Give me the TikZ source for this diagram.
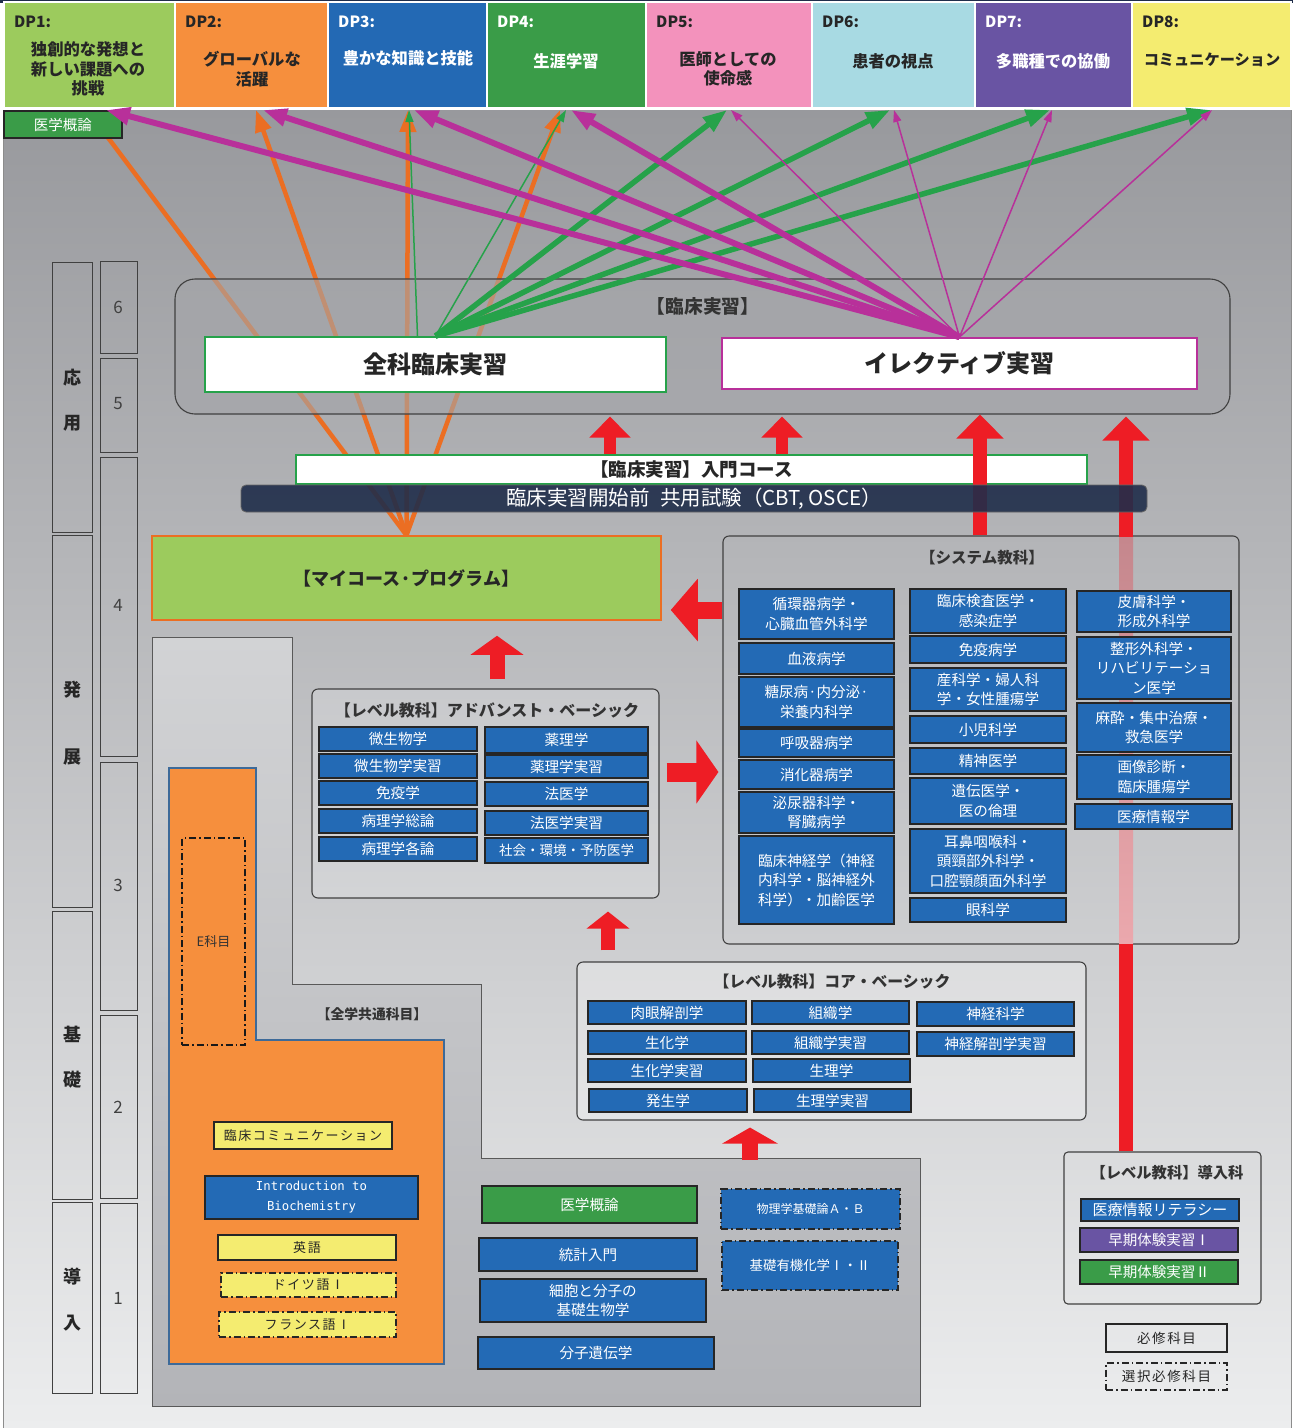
\documentclass[tikz,border=0pt]{standalone}
\usepackage{fontspec}
\setmainfont{Noto Sans CJK JP}
\newfontfamily\monof{DejaVu Sans Mono}
\newfontfamily\spacedf{Noto Sans CJK JP}[LetterSpace=12]
\usetikzlibrary{arrows.meta,calc}
\pgfdeclarelayer{back}
\pgfdeclarelayer{olines}
\pgfdeclarelayer{glines}
\pgfdeclarelayer{sboxl}
\pgfdeclarelayer{topl}
\pgfsetlayers{back,olines,main,glines,sboxl,topl}
\definecolor{dpa}{HTML}{9CCB5D}
\definecolor{dpb}{HTML}{F68F3D}
\definecolor{dpc}{HTML}{2369B4}
\definecolor{dpd}{HTML}{3A9C48}
\definecolor{dpe}{HTML}{F392BC}
\definecolor{dpf}{HTML}{A8DAE3}
\definecolor{dpg}{HTML}{6954A3}
\definecolor{dph}{HTML}{F4EC70}
\definecolor{sblue}{HTML}{236AB5}
\definecolor{mred}{HTML}{EE1D25}
\definecolor{lor}{HTML}{EB6E23}
\definecolor{lgr}{HTML}{26A24A}
\definecolor{lmag}{HTML}{B8309A}
\definecolor{navy}{HTML}{1F2D4A}
\definecolor{bgtop}{HTML}{98999D}
\definecolor{bgbot}{HTML}{ECEDEE}
\definecolor{clinf}{HTML}{A4A5A9}
\definecolor{edgeblue}{HTML}{3D6A99}
\definecolor{pa}{HTML}{D2D3D5}
\definecolor{pb}{HTML}{AFB0B4}
\definecolor{pc}{HTML}{B3B4B8}
\definecolor{pinka}{HTML}{C5878D}
\definecolor{pinkb}{HTML}{EBA8AD}
\newcommand\fs[2]{\fontsize{#1}{#2}\selectfont}
\newcommand\mkbox[7]{\node[#2, minimum width={#5-#3}, minimum height={#6-#4}] (#1) at ({(#3+#5)/2},{(#4+#6)/2}) {#7};}
\tikzset{
  sb/.style={draw=black!85, line width=1.6pt, fill=sblue, text=white, inner sep=0pt, align=center, font=\fs{14.6}{19.5}},
  gb/.style={sb, fill=dpd},
  pb/.style={sb, fill=dpg},
  yb/.style={draw=black!85, line width=1.5pt, fill=dph, text=black!85, inner sep=0pt, align=center, font=\spacedf\fs{13}{16}},
  dd/.style={dash pattern=on 7pt off 3pt on 1.5pt off 3pt},
  panel/.style={draw=black!75, line width=1.1pt, rounded corners=6pt, inner sep=0pt},
  ttl/.style={font=\bfseries\fs{15.5}{18}, text=black!80, inner sep=0pt},
  dpbx/.style={inner sep=0pt, draw=white, line width=1.4pt},
  dpt/.style={anchor=west, inner sep=0pt, font=\bfseries\fs{15.5}{18}},
  dpl/.style={inner sep=0pt, align=center, font=\bfseries\fs{16.3}{19.5}},
  colbox/.style={draw=black!75, line width=1pt, inner sep=0pt},
  phc/.style={inner sep=0pt, font=\bfseries\fs{18}{20}, text=black!85},
  yrn/.style={inner sep=0pt, font=\fs{17}{20}, text=black!75},
  bigb/.style={fill=white, line width=2pt, inner sep=0pt, font=\bfseries\fs{24}{28}, text=black!85},
  oline/.style={draw=lor, line width=4.5pt},
  tkg/.style={draw=lgr, line width=5.5pt, -{Triangle[width=17pt,length=24pt]}},
  tng/.style={draw=lgr, line width=1.5pt, -{Triangle[width=8pt,length=12pt]}},
  tkm/.style={draw=lmag, line width=6pt, -{Triangle[width=17pt,length=24pt]}},
  tnm/.style={draw=lmag, line width=1.5pt, -{Triangle[width=8pt,length=12pt]}},
  rarr/.style={draw=mred}
}
\begin{document}
\begin{tikzpicture}[x=1pt,y=-1pt]
\useasboundingbox (0,0) rectangle (1293,1428);
\begin{pgfonlayer}{back}
\fill[white] (0,0) rectangle (1293,1428);
\fill[navy] (0,0) rectangle (1293,2.5);
\shade[top color=bgtop, bottom color=bgbot] (3,110) rectangle (1291,1428);
\draw[black!45, line width=0.8pt] (3,110) -- (3,1428) (1291,110) -- (1291,1428);
\path[draw=black!65, line width=1pt, top color=pa, middle color=pb, bottom color=pc]
  (152,637) -- (292,637) -- (292,984) -- (481,984) -- (481,1158) -- (920,1158) -- (920,1406) -- (152,1406) -- cycle;
\end{pgfonlayer}

% ---------------- DP header
\mkbox{dp1}{dpbx, fill=dpa}{4}{2}{175}{108}{}
\mkbox{dp2}{dpbx, fill=dpb}{175}{2}{328}{108}{}
\mkbox{dp3}{dpbx, fill=dpc}{328}{2}{487}{108}{}
\mkbox{dp4}{dpbx, fill=dpd}{487}{2}{646}{108}{}
\mkbox{dp5}{dpbx, fill=dpe}{646}{2}{812}{108}{}
\mkbox{dp6}{dpbx, fill=dpf}{812}{2}{975}{108}{}
\mkbox{dp7}{dpbx, fill=dpg}{975}{2}{1132}{108}{}
\mkbox{dp8}{dpbx, fill=dph}{1132}{2}{1291}{108}{}
\node[dpt, text=black!85] (dpt1) at (14,22) {DP1:};
\node[dpt, text=black!85] (dpt2) at (185,22) {DP2:};
\node[dpt, text=white] (dpt3) at (338,22) {DP3:};
\node[dpt, text=white] (dpt4) at (497,22) {DP4:};
\node[dpt, text=black!85] (dpt5) at (656,22) {DP5:};
\node[dpt, text=black!85] (dpt6) at (822,22) {DP6:};
\node[dpt, text=white] (dpt7) at (985,22) {DP7:};
\node[dpt, text=black!85] (dpt8) at (1142,22) {DP8:};
\node[dpl, text=black!85] (dpl1) at (88,69) {独創的な発想と\\新しい課題への\\挑戦};
\node[dpl, text=black!85] (dpl2) at (252,69) {グローバルな\\活躍};
\node[dpl, text=white] (dpl3) at (408,58) {豊かな知識と技能};
\node[dpl, text=white] (dpl4) at (566,61) {生涯学習};
\node[dpl, text=black!85] (dpl5) at (728,69) {医師としての\\使命感};
\node[dpl, text=black!85] (dpl6) at (893,61) {患者の視点};
\node[dpl, text=white] (dpl7) at (1053,61) {多職種での協働};
\node[dpl, text=black!85, font=\bfseries\fs{15.2}{19}] (dpl8) at (1212,60) {コミュニケーション};
\mkbox{mgai}{draw=black!85, line width=1.5pt, fill=dpd, text=white, inner sep=0pt, font=\fs{14.5}{17}}{4}{111}{122}{138}{医学概論}

% ---------------- left columns
\mkbox{ph1}{colbox}{52}{262}{92}{532}{}
\mkbox{ph2}{colbox}{52}{535}{92}{907}{}
\mkbox{ph3}{colbox}{52}{911}{92}{1199}{}
\mkbox{ph4}{colbox}{52}{1202}{92}{1393}{}
\node[phc] (c1a) at (72,378) {応};
\node[phc] (c1b) at (72,423) {用};
\node[phc] (c2a) at (72,690) {発};
\node[phc] (c2b) at (72,757) {展};
\node[phc] (c3a) at (72,1034) {基};
\node[phc] (c3b) at (72,1080) {礎};
\node[phc] (c4a) at (72,1277) {導};
\node[phc] (c4b) at (72,1323) {入};
\mkbox{y6}{colbox}{100}{261}{137}{353}{}
\mkbox{y5}{colbox}{100}{358}{137}{452}{}
\mkbox{y4}{colbox}{100}{457}{137}{756}{}
\mkbox{y3}{colbox}{100}{762}{137}{1010}{}
\mkbox{y2}{colbox}{100}{1015}{137}{1198}{}
\mkbox{y1}{colbox}{100}{1203}{137}{1393}{}
\node[yrn] at (118,307) {6};
\node[yrn] at (118,404) {5};
\node[yrn] at (118,605) {4};
\node[yrn] at (118,885) {3};
\node[yrn] at (118,1107) {2};
\node[yrn] at (118,1298) {1};

% ---------------- clinical block
\mkbox{clin}{panel, rounded corners=20pt, fill=clinf, fill opacity=0.6}{175}{279}{1230}{414}{}
\node[ttl, font=\bfseries\fs{18.7}{22}] (clint) at (703,306) {【臨床実習】};
\mkbox{zenka}{bigb, draw=lgr}{205}{337}{666}{392}{全科臨床実習}
\mkbox{elec}{bigb, draw=lmag}{722}{338}{1197}{389}{イレクティブ実習}
\mkbox{intro}{fill=white, draw=lgr, line width=1.5pt, inner sep=0pt, font=\bfseries\fs{18.5}{22}, text=black!85}{296}{455}{1087}{484}{【臨床実習】入門コース}
\mkbox{my}{fill=dpa, draw=lor, line width=1.5pt, inner sep=0pt, font=\bfseries\fs{18}{22}, text=black!85}{152}{536}{661}{620}{【マイコース·プログラム】}

% ---------------- system subjects
\mkbox{sys}{panel}{723}{536}{1239}{944}{}
\node[ttl] (syst) at (982,558) {【システム教科】};
\begin{pgfonlayer}{sboxl}
\mkbox{s11}{sb}{739}{589}{894}{639}{循環器病学・\\心臓血管外科学}
\mkbox{s12}{sb}{739}{643}{894}{674}{血液病学}
\mkbox{s13}{sb}{739}{677}{894}{727}{糖尿病·内分泌·\\栄養内科学}
\mkbox{s14}{sb}{739}{729}{894}{757}{呼吸器病学}
\mkbox{s15}{sb}{739}{760}{894}{789}{消化器病学}
\mkbox{s16}{sb}{739}{792}{894}{833}{泌尿器科学・\\腎臓病学}
\mkbox{s17}{sb}{739}{836}{894}{924}{臨床神経学（神経\\内科学・脳神経外\\科学）・加齢医学}
\mkbox{s21}{sb}{910}{589}{1066}{633}{臨床検査医学・\\感染症学}
\mkbox{s22}{sb}{910}{636}{1066}{663}{免疫病学}
\mkbox{s23}{sb}{910}{668}{1066}{711}{産科学・婦人科\\学・女性腫瘍学}
\mkbox{s24}{sb}{910}{716}{1066}{743}{小児科学}
\mkbox{s25}{sb}{910}{748}{1066}{774}{精神医学}
\mkbox{s26}{sb}{910}{778}{1066}{824}{遺伝医学・\\医の倫理}
\mkbox{s27}{sb}{910}{829}{1066}{893}{耳鼻咽喉科・\\頭頸部外科学・\\口腔顎顔面外科学}
\mkbox{s28}{sb}{910}{898}{1066}{922}{眼科学}
\mkbox{s31}{sb}{1077}{591}{1231}{632}{皮膚科学・\\形成外科学}
\mkbox{s32}{sb}{1077}{637}{1231}{699}{整形外科学・\\リハビリテーショ\\ン医学}
\mkbox{s33}{sb}{1077}{703}{1231}{752}{麻酔・集中治療・\\救急医学}
\mkbox{s34}{sb}{1077}{755}{1231}{799}{画像診断・\\臨床腫瘍学}
\mkbox{s35}{sb}{1075}{804}{1232}{829}{医療情報学}
\end{pgfonlayer}

% ---------------- advanced basic
\mkbox{adv}{panel, fill=white, fill opacity=0.18}{312}{689}{659}{898}{}
\node[ttl, font=\bfseries\fs{16}{19}] (advt) at (487,710) {【レベル教科】アドバンスト・ベーシック};
\mkbox{a11}{sb}{319}{727}{477}{751}{微生物学}
\mkbox{a12}{sb}{319}{754}{477}{778}{微生物学実習}
\mkbox{a13}{sb}{319}{781}{477}{805}{免疫学}
\mkbox{a14}{sb}{319}{809}{477}{833}{病理学総論}
\mkbox{a15}{sb}{319}{837}{477}{861}{病理学各論}
\mkbox{a21}{sb}{485}{727}{648}{753}{薬理学}
\mkbox{a22}{sb}{485}{755}{648}{778}{薬理学実習}
\mkbox{a23}{sb}{485}{782}{648}{806}{法医学}
\mkbox{a24}{sb}{485}{811}{648}{835}{法医学実習}
\mkbox{a25}{sb, font=\fs{13.5}{16}}{485}{838}{648}{863}{社会・環境・予防医学}

% ---------------- core basic
\mkbox{core}{panel, fill=white, fill opacity=0.3}{577}{962}{1086}{1120}{}
\node[ttl, font=\bfseries\fs{15.8}{19}] (coret) at (832,982) {【レベル教科】コア・ベーシック};
\mkbox{k11}{sb}{588}{1001}{746}{1024}{肉眼解剖学}
\mkbox{k12}{sb}{588}{1031}{746}{1054}{生化学}
\mkbox{k13}{sb}{588}{1059}{746}{1082}{生化学実習}
\mkbox{k14}{sb}{589}{1089}{747}{1112}{発生学}
\mkbox{k21}{sb}{752}{1001}{909}{1024}{組織学}
\mkbox{k22}{sb}{752}{1031}{909}{1054}{組織学実習}
\mkbox{k23}{sb}{753}{1059}{910}{1082}{生理学}
\mkbox{k24}{sb}{754}{1089}{911}{1112}{生理学実習}
\mkbox{k31}{sb}{917}{1002}{1074}{1026}{神経科学}
\mkbox{k32}{sb}{917}{1032}{1074}{1056}{神経解剖学実習}

% ---------------- common subjects
\path[fill=dpb, draw=edgeblue, line width=1.8pt] (169,768) -- (256,768) -- (256,1040) -- (444,1040) -- (444,1364) -- (169,1364) -- cycle;
\mkbox{ebox}{draw=black!90, line width=1.5pt, dd, inner sep=0pt, font=\fs{13}{16}, text=black!80}{182}{838}{245}{1045}{E科目}
\node[ttl, font=\bfseries\fs{13.8}{16}] (comt) at (372,1014) {【全学共通科目】};
\mkbox{b1}{yb}{214}{1122}{392}{1149}{臨床コミュニケーション}
\mkbox{b2}{sb, font=\monof\fs{12.3}{20}}{205}{1176}{418}{1219}{Introduction to\\Biochemistry}
\mkbox{b3}{yb}{218}{1235}{396}{1260}{英語}
\mkbox{b4}{yb, dd}{221}{1273}{396}{1297}{ドイツ語Ⅰ}
\mkbox{b5}{yb, dd}{219}{1312}{396}{1337}{フランス語Ⅰ}
\mkbox{b6}{gb}{482}{1186}{697}{1223}{医学概論}
\mkbox{b7}{sb}{479}{1238}{697}{1271}{統計入門}
\mkbox{b8}{sb}{480}{1279}{706}{1322}{細胞と分子の\\基礎生物学}
\mkbox{b9}{sb}{478}{1337}{714}{1369}{分子遺伝学}
\mkbox{b10}{sb, dd, font=\fs{12}{15}}{721}{1189}{900}{1229}{物理学基礎論Ａ・Ｂ}
\mkbox{b11}{sb, dd, font=\fs{13.4}{16}}{722}{1241}{898}{1290}{基礎有機化学Ⅰ・Ⅱ}

% ---------------- introductory
\mkbox{dny}{panel, rounded corners=4pt}{1064}{1152}{1261}{1304}{}
\node[ttl, font=\bfseries\fs{15.3}{18}] (dnyt) at (1167,1173) {【レベル教科】導入科};
\mkbox{d1}{sb, font=\fs{15}{18}}{1081}{1199}{1239}{1221}{医療情報リテラシー}
\mkbox{d2}{pb, font=\fs{14.5}{18}}{1080}{1228}{1238}{1252}{早期体験実習Ⅰ}
\mkbox{d3}{gb, font=\fs{14.5}{18}}{1080}{1260}{1238}{1284}{早期体験実習Ⅱ}
\mkbox{leg1}{draw=black!85, line width=1.5pt, inner sep=0pt, font=\spacedf\fs{13.5}{16}, text=black!85}{1106}{1324}{1227}{1352}{必修科目}
\mkbox{leg2}{draw=black!85, line width=1.5pt, dd, inner sep=0pt, font=\spacedf\fs{13.5}{16}, text=black!85}{1106}{1363}{1227}{1390}{選択必修科目}

% ---------------- coordinates for connector ends
\coordinate (o1) at (106,135);
\coordinate (o2) at (256,110);
\coordinate (o3) at (408,110);
\coordinate (o4) at (560,110);
\coordinate (g3) at (409,110);
\coordinate (g4) at (566,110);
\coordinate (g5) at (727,110);
\coordinate (g6) at (890,110);
\coordinate (g7) at (1050,110);
\coordinate (g8) at (1211,110);
\coordinate (m1) at (106,110);
\coordinate (m2) at (263,110);
\coordinate (m3) at (414,110);
\coordinate (m4) at (571,110);
\coordinate (m5) at (731,110);
\coordinate (m6) at (894,110);
\coordinate (m7) at (1052,110);
\coordinate (m8) at (1212,110);
\coordinate (xa) at (610,0);
\coordinate (xb) at (782,0);
\coordinate (xc) at (980,0);
\coordinate (xd) at (1126,0);
\coordinate (xe) at (497,0);
\coordinate (xf) at (608,0);
\coordinate (xg) at (750,0);
\coordinate (yr) at (0,772);
\coordinate (ys) at (0,610);
\coordinate (bt) at (750,1160);

\begin{pgfonlayer}{olines}
\draw[oline] (my.north) -- (o1);
\draw[oline, -{Triangle[width=16pt,length=22pt]}] (my.north) -- (o2);
\draw[oline, -{Triangle[width=16pt,length=22pt]}] (my.north) -- (o3);
\draw[oline, -{Triangle[width=16pt,length=22pt]}] (my.north) -- (o4);
\end{pgfonlayer}

\begin{pgfonlayer}{glines}
\draw[tng] ($(zenka.north)+(-18,0)$) -- (g3);
\draw[tng] (zenka.north) -- (g4);
\draw[tkg] (zenka.north) -- (g5);
\draw[tkg] (zenka.north) -- (g6);
\draw[tkg] (zenka.north) -- (g7);
\draw[tkg] (zenka.north) -- (g8);
\draw[tkm] (elec.north) -- (m1);
\draw[tkm] (elec.north) -- (m2);
\draw[tkm] (elec.north) -- (m3);
\draw[tkm] (elec.north) -- (m4);
\draw[tnm] (elec.north) -- (m5);
\draw[tnm] (elec.north) -- (m6);
\draw[tnm] (elec.north) -- (m7);
\draw[tnm] (elec.north) -- (m8);
% red block arrows
\draw[rarr, line width=12pt, -{Triangle[width=40pt,length=21pt]}] (intro.north -| xa) -- ($(clin.south -| xa)+(0,2)$);
\draw[rarr, line width=12pt, -{Triangle[width=40pt,length=21pt]}] (intro.north -| xb) -- ($(clin.south -| xb)+(0,2)$);
\draw[rarr, line width=14pt, -{Triangle[width=46pt,length=24pt]}] (sys.north -| xc) -- (clin.south -| xc);
\draw[rarr, line width=14pt, -{Triangle[width=46pt,length=24pt]}] (dny.north -| xd) -- ($(clin.south -| xd)+(0,2)$);
\shade[top color=pinka, bottom color=pinkb] (1119,537.3) rectangle (1133,943.2);
\draw[rarr, line width=19pt, -{Triangle[width=62pt,length=22pt]}] ($(adv.east |- yr)+(7,0)$) -- ($(sys.west |- yr)+(-4,0)$);
\draw[rarr, line width=17pt, -{Triangle[width=61pt,length=27pt]}] (sys.west |- ys) -- ($(my.east |- ys)+(9,0)$);
\draw[rarr, line width=15pt, -{Triangle[width=52pt,length=19pt]}] ($(adv.north -| xe)+(0,-9)$) -- ($(my.south -| xe)+(0,15)$);
\draw[rarr, line width=14pt, -{Triangle[width=42pt,length=17pt]}] ($(core.north -| xf)+(0,-11)$) -- ($(adv.south -| xf)+(0,13)$);
\draw[rarr, line width=16pt, -{Triangle[width=55pt,length=16pt]}] (bt) -- ($(core.south -| xg)+(0,7)$);
\end{pgfonlayer}

\begin{pgfonlayer}{topl}
\mkbox{exam}{fill=navy, fill opacity=0.9, text opacity=1, draw=black!60, line width=0.8pt, rounded corners=5pt, inner sep=0pt, text=white, font=\fs{20.5}{24}}{241}{485}{1147}{512}{臨床実習開始前\hspace{0.5em}共用試験（CBT, OSCE）}
\end{pgfonlayer}
\end{tikzpicture}
\end{document}
